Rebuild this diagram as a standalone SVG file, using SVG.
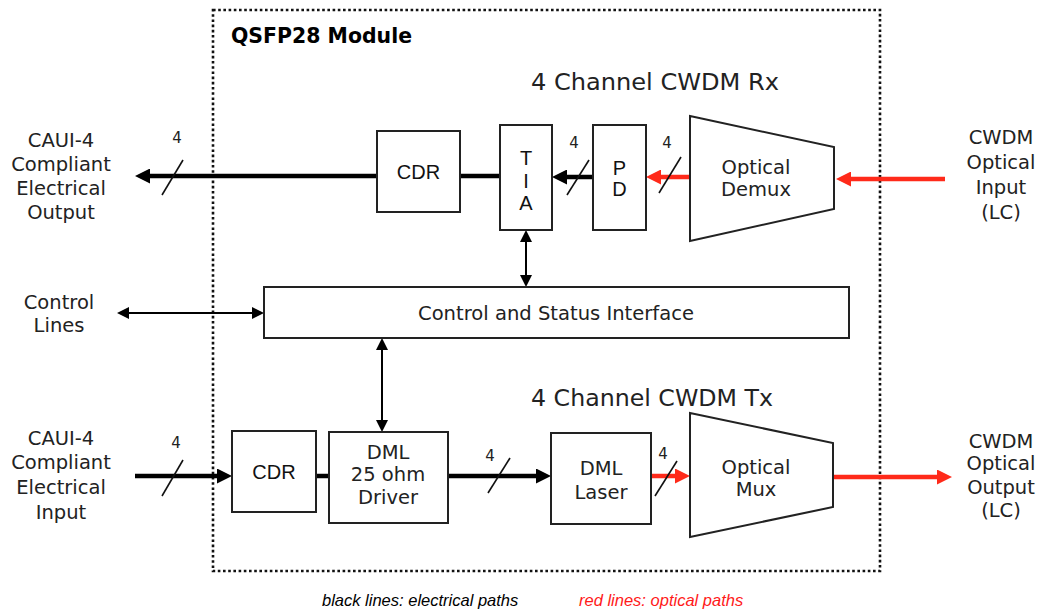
<svg xmlns="http://www.w3.org/2000/svg" width="1045" height="611" viewBox="0 0 1045 611">
<style>
.lbl{font-family:"DejaVu Sans",sans-serif;font-size:19.5px;fill:#222;text-anchor:middle}
.ar{font-family:"Liberation Sans",Arial,sans-serif;font-size:20px;fill:#111;text-anchor:middle}
.num{font-family:"DejaVu Sans",sans-serif;font-size:15px;fill:#222;text-anchor:middle}
.hd{font-family:"DejaVu Sans",sans-serif;font-size:23px;fill:#222}
.box{fill:#fff;stroke:#222;stroke-width:2}
.thick{stroke:#000;stroke-width:4.5;fill:none}
.red{stroke:#ff2a1a;stroke-width:4.5;fill:none}
.thin{stroke:#000;stroke-width:2;fill:none}
.slash{stroke:#111;stroke-width:1.6}
.leg{font-family:"Liberation Sans",Arial,sans-serif;font-size:16.5px;font-style:italic}
</style>
<defs>
<marker id="ah" markerUnits="userSpaceOnUse" viewBox="0 0 15 15" markerWidth="15" markerHeight="15" refX="7" refY="7.5" orient="auto-start-reverse"><path d="M0,0 L15,7.5 L0,15 z" fill="#000"/></marker>
<marker id="ahr" markerUnits="userSpaceOnUse" viewBox="0 0 15 15" markerWidth="15" markerHeight="15" refX="7" refY="7.5" orient="auto-start-reverse"><path d="M0,0 L15,7.5 L0,15 z" fill="#ff2a1a"/></marker>
<marker id="as" markerUnits="userSpaceOnUse" viewBox="0 0 12 12" markerWidth="12" markerHeight="12" refX="6" refY="6" orient="auto-start-reverse"><path d="M0,0 L12,6 L0,12 z" fill="#000"/></marker>
</defs>
<rect width="1045" height="611" fill="#fff"/>

<g id="module-boundary">
<rect x="213" y="10" width="667" height="561" fill="none" stroke="#111" stroke-width="2.6" stroke-dasharray="2.6 2.6"/>
<text x="231" y="43" font-family="DejaVu Sans,sans-serif" font-weight="bold" font-size="21" textLength="181" lengthAdjust="spacingAndGlyphs" fill="#000">QSFP28 Module</text>
</g>

<text class="hd" x="531" y="90" textLength="248" lengthAdjust="spacingAndGlyphs">4 Channel CWDM Rx</text>
<text class="hd" x="531" y="406" textLength="242" lengthAdjust="spacingAndGlyphs">4 Channel CWDM Tx</text>

<g id="connectors">
<!-- Rx path -->
<line class="red" x1="945" y1="179" x2="844" y2="179" marker-end="url(#ahr)"/>
<line class="red" x1="690" y1="177" x2="654" y2="177" marker-end="url(#ahr)"/>
<line class="thick" x1="593" y1="177" x2="560" y2="177" marker-end="url(#ah)"/>
<line class="thick" x1="500" y1="176" x2="460" y2="176"/>
<line class="thick" x1="377" y1="176" x2="143" y2="176" marker-end="url(#ah)"/>
<!-- control -->
<line class="thin" x1="123" y1="313" x2="258" y2="313" marker-start="url(#as)" marker-end="url(#as)"/>
<line class="thin" x1="526" y1="236" x2="526" y2="281" marker-start="url(#as)" marker-end="url(#as)"/>
<line class="thin" x1="382" y1="344" x2="382" y2="426" marker-start="url(#as)" marker-end="url(#as)"/>
<!-- Tx path -->
<line class="thick" x1="135" y1="476" x2="224" y2="476" marker-end="url(#ah)"/>
<line class="thick" x1="316" y1="476" x2="329" y2="476"/>
<line class="thick" x1="448" y1="476" x2="543" y2="476" marker-end="url(#ah)"/>
<line class="red" x1="651" y1="476" x2="682" y2="476" marker-end="url(#ahr)"/>
<line class="red" x1="833" y1="477" x2="944" y2="477" marker-end="url(#ahr)"/>
<!-- bus slashes -->
<line class="slash" x1="162" y1="195" x2="183" y2="160"/>
<line class="slash" x1="567" y1="195" x2="589" y2="160"/>
<line class="slash" x1="659" y1="193" x2="681" y2="157"/>
<line class="slash" x1="162" y1="496" x2="183" y2="460"/>
<line class="slash" x1="488" y1="493" x2="510" y2="458"/>
<line class="slash" x1="655" y1="496" x2="677" y2="461"/>
<text class="num" x="177" y="143">4</text>
<text class="num" x="574" y="148">4</text>
<text class="num" x="667" y="148">4</text>
<text class="num" x="176" y="448">4</text>
<text class="num" x="490" y="461">4</text>
<text class="num" x="663" y="459">4</text>
</g>

<g id="rx-cdr">
<rect class="box" x="377" y="131" width="83" height="81"/>
<text class="ar" x="418.5" y="179">CDR</text>
</g>
<g id="tia">
<rect class="box" x="500" y="125" width="52" height="105"/>
<text class="ar" x="526" y="165">T</text>
<text class="ar" x="526" y="188">I</text>
<text class="ar" x="526" y="210">A</text>
</g>
<g id="pd">
<rect class="box" x="593" y="125" width="53" height="105"/>
<text class="ar" x="619.5" y="175">P</text>
<text class="ar" x="619.5" y="196">D</text>
</g>
<g id="optical-demux">
<polygon class="box" points="690,116 834,147 834,209 690,241"/>
<text class="lbl" x="756" y="174" font-size="19">Optical</text>
<text class="lbl" x="756" y="196" font-size="19">Demux</text>
</g>
<g id="control-status">
<rect class="box" x="264" y="287" width="585" height="51"/>
<text class="lbl" x="556" y="320" textLength="276" lengthAdjust="spacingAndGlyphs">Control and Status Interface</text>
</g>
<g id="tx-cdr">
<rect class="box" x="232" y="431" width="84" height="81"/>
<text class="ar" x="274" y="479">CDR</text>
</g>
<g id="dml-driver">
<rect class="box" x="329" y="432" width="119" height="91"/>
<text class="lbl" x="388" y="459" font-size="19">DML</text>
<text class="lbl" x="388" y="481" font-size="19">25 ohm</text>
<text class="lbl" x="388" y="504" font-size="19">Driver</text>
</g>
<g id="dml-laser">
<rect class="box" x="551" y="433" width="100" height="91"/>
<text class="lbl" x="601" y="475" font-size="18">DML</text>
<text class="lbl" x="601" y="499" font-size="18">Laser</text>
</g>
<g id="optical-mux">
<polygon class="box" points="690,413 833,443 833,507 690,537"/>
<text class="lbl" x="756" y="474" font-size="19">Optical</text>
<text class="lbl" x="756" y="496" font-size="19">Mux</text>
</g>

<g id="label-rx-out">
<text class="lbl" x="61" y="147">CAUI-4</text>
<text class="lbl" x="61" y="171">Compliant</text>
<text class="lbl" x="61" y="195">Electrical</text>
<text class="lbl" x="61" y="219">Output</text>
</g>
<g id="label-rx-in">
<text class="lbl" x="1001" y="144">CWDM</text>
<text class="lbl" x="1001" y="169">Optical</text>
<text class="lbl" x="1001" y="194">Input</text>
<text class="lbl" x="1001" y="219">(LC)</text>
</g>
<g id="label-control">
<text class="lbl" x="59" y="309">Control</text>
<text class="lbl" x="59" y="332">Lines</text>
</g>
<g id="label-tx-in">
<text class="lbl" x="61" y="445">CAUI-4</text>
<text class="lbl" x="61" y="469">Compliant</text>
<text class="lbl" x="61" y="494">Electrical</text>
<text class="lbl" x="61" y="519">Input</text>
</g>
<g id="label-tx-out">
<text class="lbl" x="1001" y="448">CWDM</text>
<text class="lbl" x="1001" y="470">Optical</text>
<text class="lbl" x="1001" y="494">Output</text>
<text class="lbl" x="1001" y="517">(LC)</text>
</g>

<g id="legend">
<text class="leg" x="322" y="606" fill="#000">black lines: electrical paths</text>
<text class="leg" x="579" y="606" fill="#ff1a1a">red lines: optical paths</text>
</g>
</svg>
